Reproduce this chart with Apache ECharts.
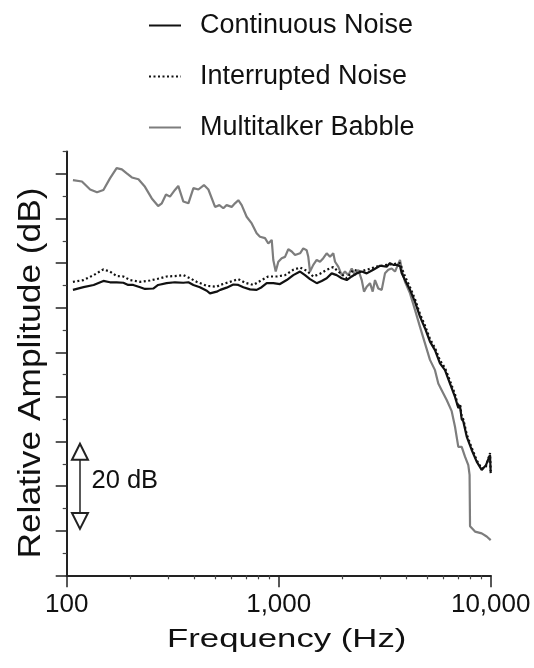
<!DOCTYPE html>
<html><head><meta charset="utf-8">
<script src="https://cdn.jsdelivr.net/npm/echarts@6/dist/echarts.min.js"></script>
<style>html,body{margin:0;padding:0;background:#fff}#c{width:534px;height:668px}</style>
</head><body><div id="c"></div>
<script>
// ---------- data ----------
const seriesNames = ['Continuous Noise', 'Interrupted Noise', 'Multitalker Babble'];

const contFreq = [107,120,134,149,160,172,185,195,206,222,234,256,270,296,324,355,375,396,425,458,474,510,530,568,611,645,681,732,787,831,878,943,1014,1091,1172,1261,1331,1405,1511,1595,1684,1778,1877,1983,2094,2210,2333,2464,2601,2696,2794,3006,3231,3350,3472,3603,3735,3804,3943,4163,4395,4640,4898,5171,5460,5765,6087,6427,6786,7034,7164,7298,7427,7706,8137,8590,9069,9500,9924,10000];
const contDb   = [64.0,64.6,65.1,66.0,65.7,65.7,65.6,65.1,65.1,64.6,64.2,64.3,65.1,65.5,65.7,65.6,65.7,65.1,64.6,63.8,63.2,63.6,64.0,64.5,65.2,65.1,64.6,64.1,64.0,64.6,65.5,65.5,65.3,66.2,67.3,68.1,67.3,66.4,65.5,66.0,66.6,67.7,67.3,66.6,66.2,67.0,67.7,68.1,67.7,68.1,68.5,69.4,69.2,70.0,69.6,69.6,69.3,67.7,66.2,64.0,61.3,58.0,55.4,52.4,50.5,47.5,46.0,43.0,40.0,37.5,38.0,35.0,34.5,31.1,28.1,25.5,23.6,24.7,27.0,22.9];

const intFreq = [107,120,134,149,160,172,185,199,222,247,276,296,324,355,382,410,458,510,529,589,645,693,759,831,893,979,1071,1172,1261,1355,1456,1566,1684,1809,1946,2094,2249,2418,2601,2900,3231,3500,3735,3850,3943,4163,4395,4640,4898,5171,5460,5765,6087,6427,6786,7034,7164,7298,7427,7706,8137,8590,9069,9500,9924,10000];
const intDb   = [65.8,66.2,67.3,68.6,68.1,67.1,67.0,66.2,65.8,66.1,66.6,67.0,67.1,67.3,66.6,65.8,64.9,64.7,65.1,65.8,66.4,65.6,65.1,66.2,67.0,67.0,67.3,68.5,69.0,68.3,67.0,67.6,68.5,69.1,67.8,66.6,68.5,68.1,68.5,69.2,69.6,69.8,70.0,68.3,67.0,64.6,61.9,58.6,56.0,53.0,51.0,48.2,46.5,43.6,40.6,37.8,38.5,35.6,35.0,31.6,28.6,25.8,23.9,24.4,27.4,23.4];

const babFreq = [107,118,129,139,149,160,172,182,192,203,218,234,252,270,281,294,307,324,336,355,375,396,418,444,466,501,525,548,568,600,622,645,669,706,746,787,816,862,893,927,943,968,996,1033,1071,1110,1152,1194,1261,1306,1355,1379,1405,1456,1511,1566,1623,1684,1746,1809,1844,1910,1983,2054,2130,2210,2291,2374,2464,2526,2601,2696,2776,2846,2950,3061,3172,3288,3412,3537,3640,3735,3804,3943,4163,4395,4640,4898,5171,5460,5660,5873,6201,6546,6786,7034,7298,7565,7841,7950,7990,8434,9069,9574,10000];
const babDb   = [88.6,88.3,86.5,85.9,86.4,89.0,91.3,91.0,90.1,89.2,88.8,87.1,84.5,82.8,83.4,85.4,84.9,86.4,87.3,83.8,83.4,86.8,86.5,87.5,86.5,82.6,83.0,82.3,83.0,82.6,83.4,84.1,83.0,80.4,78.9,76.7,75.9,75.6,74.4,75.2,70.7,68.1,70.3,71.1,71.4,73.1,72.6,71.8,72.2,73.3,72.9,71.4,68.1,69.6,70.7,70.3,71.1,72.2,71.4,72.2,70.3,69.2,67.3,68.1,67.3,68.8,67.3,68.5,66.2,63.6,64.7,65.5,63.6,66.2,64.3,64.0,67.7,68.5,68.8,68.1,69.5,70.7,68.5,65.8,63.2,59.5,55.7,52.0,48.3,46.0,43.0,41.5,39.3,36.8,33.3,28.8,28.8,26.6,24.7,22.5,11.0,9.8,9.4,8.7,7.9];

// axis ticks
const xMajorTicks = [100, 1000, 10000];
const xMinorTicks = [200,300,400,500,600,700,800,900,2000,3000,4000,5000,6000,7000,8000,9000];
const yMajorTicks = [0,10,20,30,40,50,60,70,80,90];
const yMinorTicks = [5,15,25,35,45,55,65,75,85,95];

// 20 dB scale bar (frequency, upper end dB, lower end dB, label dB)
const scaleBarFreq = [115.5];
const scaleBarDb = [27.7, 12.2];
const scaleBarLabelDb = [21.1];
const scaleBarText = '20 dB';

// ---------- chart ----------
const FONT = "'Liberation Sans', Arial, Helvetica, sans-serif";
const INK = '#111';
const pairs = (xs, ys) => xs.map((x, i) => [x, ys[i]]);

const chart = echarts.init(document.getElementById('c'), null, {renderer: 'canvas'});
chart.setOption({
  animation: false,
  backgroundColor: '#fff',
  grid: {left: 66.7, right: 43.3, top: 151.6, bottom: 92.7, containLabel: false},
  legend: {
    data: seriesNames,
    orient: 'vertical',
    left: 148, top: 10.5, padding: 0,
    itemWidth: 32, itemHeight: 1, itemGap: 21,
    selectedMode: false,
    itemStyle: {opacity: 0},
    textStyle: {fontSize: 27, color: INK, fontFamily: FONT, padding: [0, 0, 0, 14], lineHeight: 30}
  },
  xAxis: [
    {
      type: 'log', logBase: 10, min: 100, max: 10000, position: 'bottom',
      axisLine: {show: true, onZero: false, lineStyle: {color: '#222', width: 2}},
      axisTick: {show: true, customValues: xMajorTicks, length: 12, lineStyle: {color: '#222', width: 1.5}},
      axisLabel: {show: true, customValues: xMajorTicks, margin: 17, fontSize: 26, color: INK, fontFamily: FONT,
        formatter: v => Number(v).toLocaleString('en-US')},
      splitLine: {show: false}
    },
    {
      type: 'log', logBase: 10, min: 100, max: 10000, position: 'bottom',
      axisLine: {show: false, onZero: false},
      axisTick: {show: true, customValues: xMinorTicks, length: 4, lineStyle: {color: '#444', width: 1.2}},
      axisLabel: {show: false},
      splitLine: {show: false}
    }
  ],
  yAxis: [
    {
      type: 'value', min: 0, max: 95, position: 'left',
      axisLine: {show: true, onZero: false, lineStyle: {color: '#222', width: 2}},
      axisTick: {show: true, customValues: yMajorTicks, length: 11, lineStyle: {color: '#222', width: 1.5}},
      axisLabel: {show: false},
      splitLine: {show: false}
    },
    {
      type: 'value', min: 0, max: 95, position: 'left',
      axisLine: {show: false, onZero: false},
      axisTick: {show: true, customValues: yMinorTicks, length: 4, lineStyle: {color: '#444', width: 1.2}},
      axisLabel: {show: false},
      splitLine: {show: false}
    }
  ],
  series: [
    {
      name: seriesNames[2], type: 'line', data: pairs(babFreq, babDb),
      symbol: 'none', showSymbol: false, z: 2,
      lineStyle: {color: '#7d7d7d', width: 2.2}, itemStyle: {color: '#7d7d7d'}
    },
    {
      name: seriesNames[1], type: 'line', data: pairs(intFreq, intDb),
      symbol: 'none', showSymbol: false, z: 3,
      lineStyle: {color: '#111', width: 2.2, type: [2, 2.5]}, itemStyle: {color: '#111'}
    },
    {
      name: seriesNames[0], type: 'line', data: pairs(contFreq, contDb),
      symbol: 'none', showSymbol: false, z: 4,
      lineStyle: {color: '#111', width: 2.2}, itemStyle: {color: '#111'},
      markLine: {
        silent: true, animation: false,
        symbol: ['emptyTriangle', 'emptyTriangle'], symbolSize: 16,
        lineStyle: {color: '#222', width: 1.5, type: 'solid'},
        label: {show: false},
        data: [[{coord: [scaleBarFreq[0], scaleBarDb[0]]}, {coord: [scaleBarFreq[0], scaleBarDb[1]]}]]
      },
      markPoint: {
        silent: true, animation: false,
        symbol: 'circle', symbolSize: 1, itemStyle: {color: 'rgba(0,0,0,0)'},
        label: {show: true, position: 'right', distance: 11, formatter: scaleBarText,
          fontSize: 25.5, color: INK, fontFamily: FONT},
        data: [{coord: [scaleBarFreq[0], scaleBarLabelDb[0]]}]
      }
    }
  ],
  graphic: [
    {type: 'text', x: 286.7, y: 639.5, scaleX: 1.31, silent: true,
      style: {text: 'Frequency (Hz)', fontSize: 26.5, fontFamily: FONT, fill: INK, align: 'center', verticalAlign: 'middle'}},
    {type: 'text', x: 31.7, y: 373, rotation: Math.PI / 2, scaleX: 1.14, silent: true,
      style: {text: 'Relative Amplitude (dB)', fontSize: 31, fontFamily: FONT, fill: INK, align: 'center', verticalAlign: 'middle'}}
  ]
});
</script>
</body></html>
